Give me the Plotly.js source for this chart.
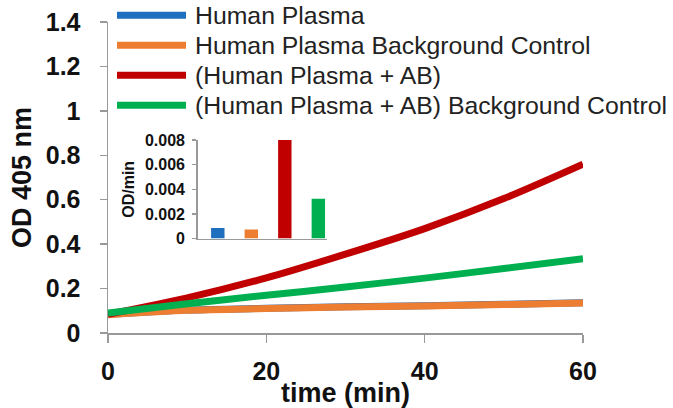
<!DOCTYPE html>
<html>
<head>
<meta charset="utf-8">
<script src="https://cdn.plot.ly/plotly-3.0.1.min.js"></script>
<style>html,body{margin:0;padding:0;background:#fff}#chart{width:673px;height:408px}</style>
</head>
<body>
<div id="chart"></div>
<script>
// ---- data ----
const timeMin = [0, 10, 20, 30, 40, 50, 60];
const seriesNames = [
  "Human Plasma",
  "Human Plasma Background Control",
  "(Human Plasma + AB)",
  "(Human Plasma + AB) Background Control"
];
const humanPlasma = [0.084, 0.103, 0.111, 0.118, 0.123, 0.129, 0.136];
const humanPlasmaBg = [0.082, 0.102, 0.110, 0.117, 0.122, 0.128, 0.135];
const plasmaAB = [0.084, 0.158, 0.248, 0.355, 0.470, 0.605, 0.760];
const plasmaABBg = [0.090, 0.132, 0.170, 0.207, 0.247, 0.290, 0.334];
const rates = [0.00086, 0.00073, 0.0081, 0.00324];   // OD/min (inset)
const colors = ["#1F6FBF", "#ED7D31", "#C00000", "#00B050"];
const xTicks = [0, 20, 40, 60];
const yTicks = [0, 0.2, 0.4, 0.6, 0.8, 1, 1.2, 1.4];
const insetTicks = [0, 0.002, 0.004, 0.006, 0.008];

// ---- layout constants ----
const W = 673, H = 408;
const M = {l: 108, r: 90, t: 21.7, b: 75.3};
const pw = W - M.l - M.r, ph = H - M.t - M.b;
const px = x => (x - M.l) / pw;           // pixel -> paper x
const py = y => (H - M.b - y) / ph;       // pixel -> paper y

const FONT = "Liberation Sans, Arial, sans-serif";
const AX = "#999999";

const lineSeries = [humanPlasma, humanPlasmaBg, plasmaAB, plasmaABBg];
const traces = lineSeries.map((ys, i) => ({
  type: "scatter", mode: "lines", x: timeMin, y: ys, name: seriesNames[i],
  line: {color: colors[i], width: 7, shape: "spline", smoothing: 0.8},
  xaxis: "x", yaxis: "y", showlegend: false, hoverinfo: "skip"
}));
traces.push({
  type: "bar", x: [0, 1, 2, 3], y: rates, width: 0.4,
  marker: {color: colors, line: {width: 0}},
  xaxis: "x2", yaxis: "y2", showlegend: false, hoverinfo: "skip"
});

// legend drawn as shapes + annotations
const rowsY = [15, 45, 75, 105];
const shapes = rowsY.map((y, i) => ({
  type: "line", xref: "paper", yref: "paper",
  x0: px(117), x1: px(186), y0: py(y), y1: py(y),
  line: {color: colors[i], width: 7}
}));
const annotations = rowsY.map((y, i) => ({
  xref: "paper", yref: "paper", x: px(193), y: py(y),
  xanchor: "left", yanchor: "middle", showarrow: false,
  text: seriesNames[i], font: {family: FONT, size: 24.8, color: "#222"}
}));

const layout = {
  width: W, height: H,
  margin: M,
  paper_bgcolor: "#fff", plot_bgcolor: "rgba(0,0,0,0)",
  showlegend: false,
  font: {family: FONT, color: "#111"},
  xaxis: {
    range: [0, 60], tickvals: xTicks, ticks: "outside", ticklen: 8, tickwidth: 1.5, tickcolor: AX,
    showline: true, linecolor: AX, linewidth: 1.5, showgrid: false, zeroline: false,
    tickfont: {family: FONT, size: 25, weight: "bold", color: "#111"},
    ticklabelstandoff: 7,
    title: {text: "time (min)", font: {family: FONT, size: 27, weight: "bold", color: "#111"}, standoff: 0},
    automargin: false
  },
  yaxis: {
    range: [0, 1.4], tickvals: yTicks, ticks: "outside", ticklen: 7, tickwidth: 1.5, tickcolor: AX,
    showline: true, linecolor: AX, linewidth: 1.5, showgrid: false, zeroline: false,
    tickfont: {family: FONT, size: 25, weight: "bold", color: "#111"},
    ticklabelstandoff: 14,
    title: {text: "OD 405 nm", font: {family: FONT, size: 27, weight: "bold", color: "#111"}, standoff: 6},
    automargin: false
  },
  xaxis2: {
    domain: [px(197.7), px(326.7)], anchor: "y2", range: [-0.6, 3.25],
    showticklabels: false, ticks: "", showline: true, linecolor: AX, linewidth: 1.5,
    showgrid: false, zeroline: false, fixedrange: true
  },
  yaxis2: {
    domain: [py(238.3), py(139.7)], anchor: "x2", range: [0, 0.008],
    tickvals: insetTicks, ticktext: insetTicks.map(v => v === 0 ? "0" : v.toFixed(3)),
    ticks: "outside", ticklen: 4, tickwidth: 1.2, tickcolor: AX,
    showline: true, linecolor: AX, linewidth: 1.5, showgrid: false, zeroline: false,
    tickfont: {family: FONT, size: 16, weight: "bold", color: "#111"},
    ticklabelstandoff: 4,
    title: {text: "OD/min", font: {family: FONT, size: 16, weight: "bold", color: "#111"}, standoff: 6},
    fixedrange: true
  },
  shapes: shapes,
  annotations: annotations
};

Plotly.newPlot("chart", traces, layout, {displayModeBar: false, staticPlot: true});
</script>
</body>
</html>
